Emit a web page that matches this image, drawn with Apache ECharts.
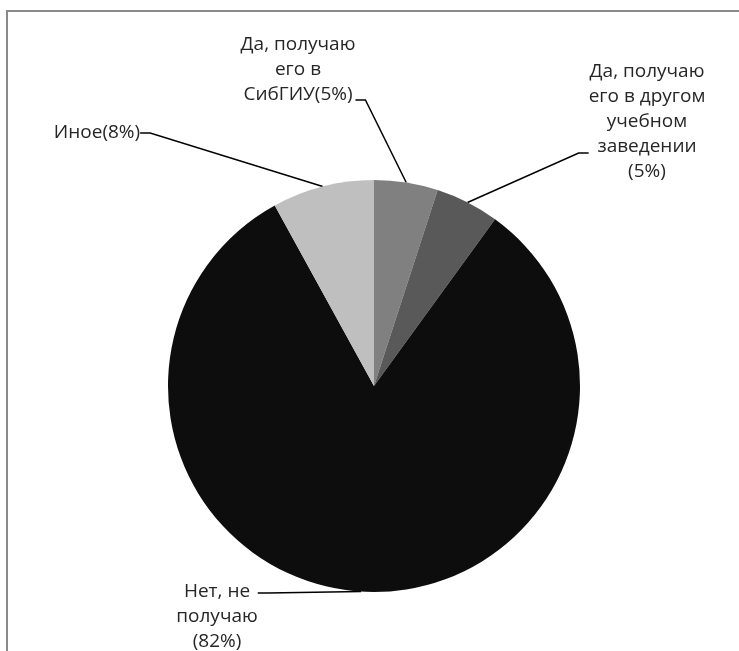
<!DOCTYPE html>
<html><head><meta charset="utf-8">
<script src="https://cdn.jsdelivr.net/npm/echarts@6/dist/echarts.min.js"></script>
<style>html,body{margin:0;padding:0;background:#fff}#c{width:739px;height:651px}</style>
</head><body><div id="c"></div>
<script>
const categories = ['Да, получаю его в СибГИУ', 'Да, получаю его в другом учебном заведении', 'Нет, не получаю', 'Иное'];
const values = [5, 5, 82, 8];
const labelTexts = ['Да, получаю\nего в\nСибГИУ(5%)', 'Да, получаю\nего в другом\nучебном\nзаведении\n(5%)', 'Нет, не\nполучаю\n(82%)', 'Иное(8%)'];
const colors = ['#808080', '#595959', '#0d0d0d', '#bfbfbf'];
const labelPos = [
  {x: 298, y: 100, align: 'center', verticalAlign: 'middle'},
  {x: 647, y: 153, align: 'center', verticalAlign: 'middle'},
  {x: 217, y: 593, align: 'center', verticalAlign: 'middle'},
  {x: 97, y: 133, align: 'center', verticalAlign: 'middle'}
];
// invisible spacer lines so that the leader line meets the right text line
const gapBefore = [0, 0, 48, 0];
const gapAfter = [60, 62, 0, 0];
function labelFor(i) {
  let s = labelTexts[i];
  if (gapBefore[i]) s = '{g' + gapBefore[i] + '| }\n' + s;
  if (gapAfter[i]) s = s + '\n{g' + gapAfter[i] + '| }';
  return s;
}
const rich = {};
gapBefore.concat(gapAfter).forEach(g => { if (g) rich['g' + g] = {lineHeight: g, fontSize: 10}; });
const chart = echarts.init(document.getElementById('c'), null, {renderer: 'canvas'});
chart.setOption({
  animation: false,
  graphic: [{type: 'rect', shape: {x: 7, y: 11, width: 800, height: 700}, style: {fill: 'none', stroke: '#8a8a8a', lineWidth: 2}, z: -1}],
  series: [{
    type: 'pie',
    center: [374, 386],
    radius: [0, 206],
    startAngle: 90,
    clockwise: true,
    data: categories.map((c, i) => ({name: c, value: values[i], itemStyle: {color: colors[i]}})),
    label: {
      show: true,
      formatter: p => labelFor(p.dataIndex),
      fontFamily: 'Open Sans', fontSize: 19, lineHeight: 25, color: '#262626',
      rich: rich
    },
    labelLine: {show: true, lineStyle: {color: '#000', width: 1.5}, length: 20, length2: 10},
    labelLayout: p => labelPos[p.dataIndex],
    emphasis: {disabled: true}
  }]
});
</script></body></html>
